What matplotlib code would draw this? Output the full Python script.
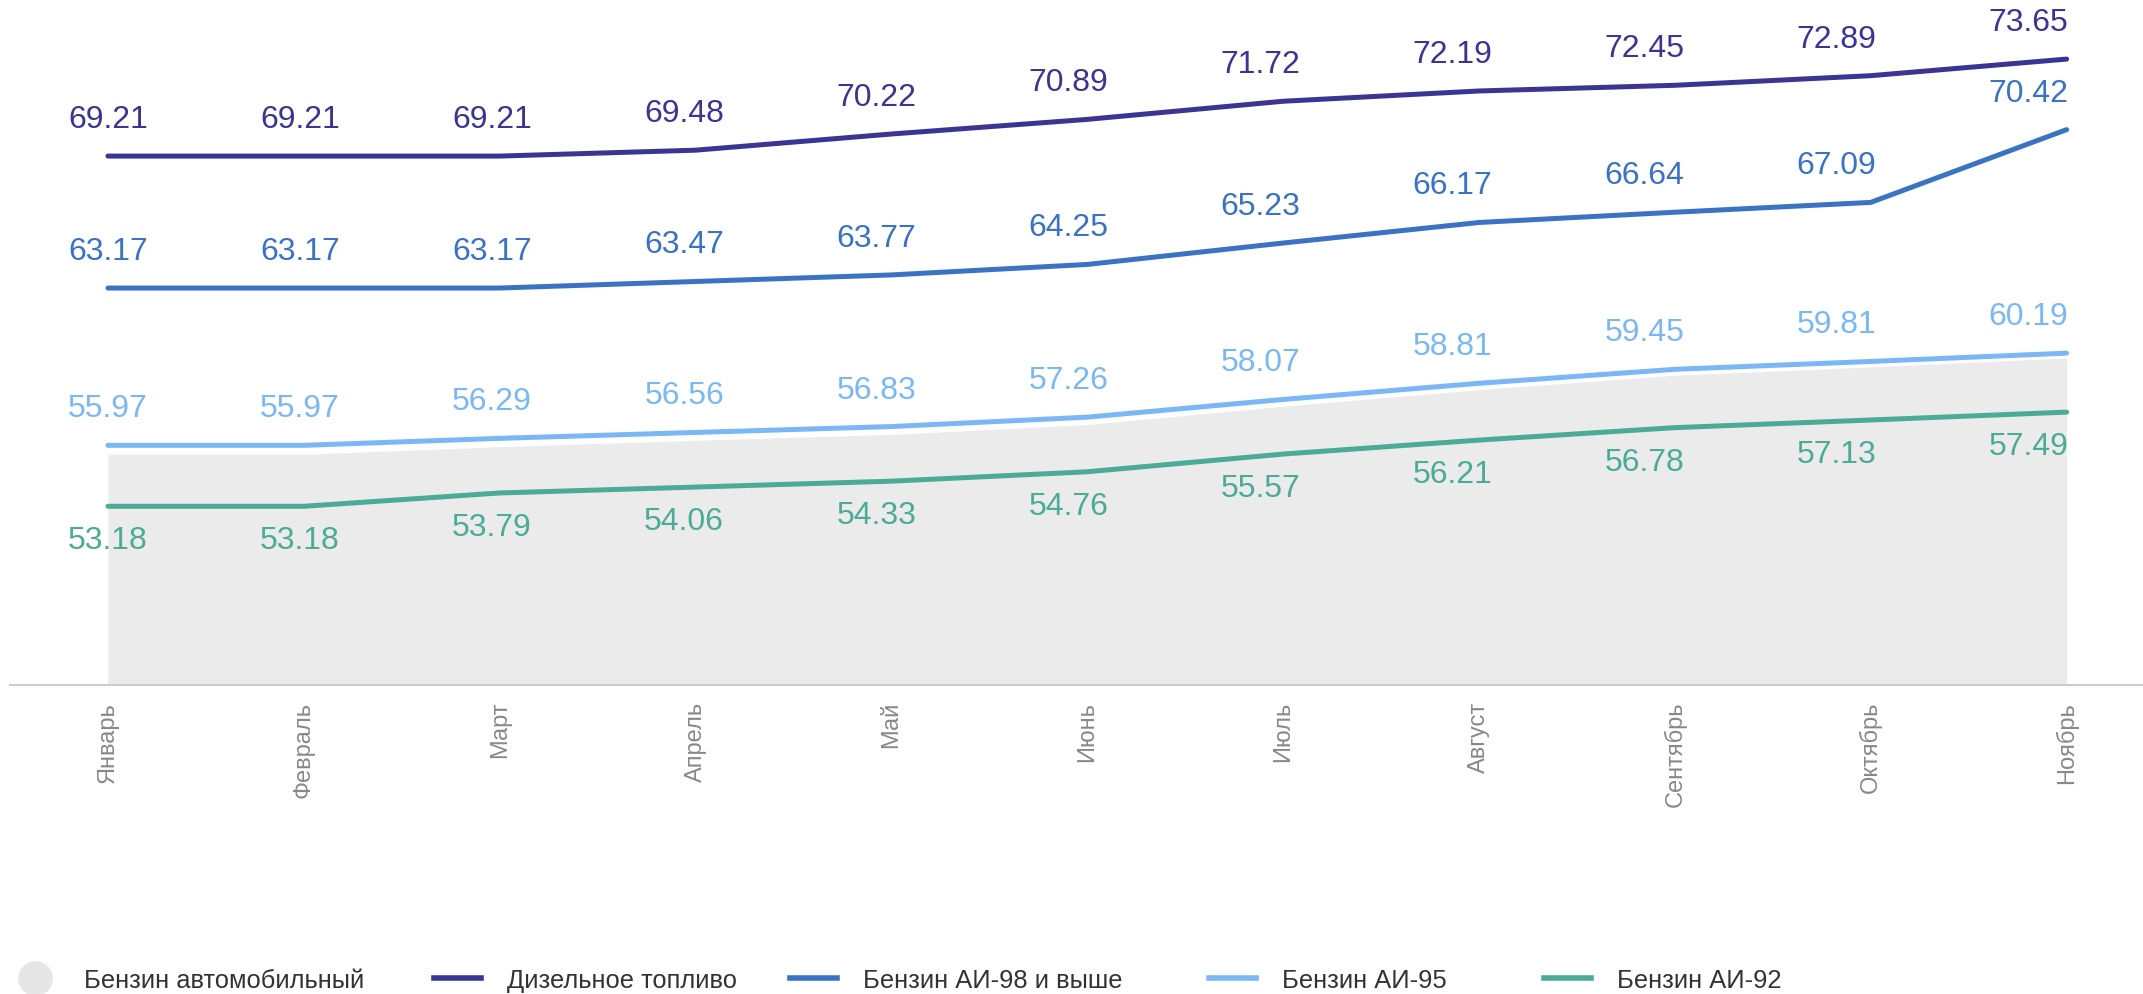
import matplotlib
matplotlib.use('Agg')
import matplotlib.pyplot as plt
from matplotlib.lines import Line2D

months = ['Январь', 'Февраль', 'Март', 'Апрель', 'Май', 'Июнь', 'Июль',
          'Август', 'Сентябрь', 'Октябрь', 'Ноябрь']
auto = [55.60, 55.60, 55.95, 56.24, 56.51, 56.96, 57.80, 58.56, 59.22, 59.60, 60.01]
diesel = [69.21, 69.21, 69.21, 69.48, 70.22, 70.89, 71.72, 72.19, 72.45, 72.89, 73.65]
ai98 = [63.17, 63.17, 63.17, 63.47, 63.77, 64.25, 65.23, 66.17, 66.64, 67.09, 70.42]
ai95 = [55.97, 55.97, 56.29, 56.56, 56.83, 57.26, 58.07, 58.81, 59.45, 59.81, 60.19]
ai92 = [53.18, 53.18, 53.79, 54.06, 54.33, 54.76, 55.57, 56.21, 56.78, 57.13, 57.49]

c_auto = '#ebebeb'
c_diesel = '#3a3494'
c_98 = '#3a72c4'
c_95 = '#7ab8f5'
c_92 = '#4aab96'

plt.rcParams['font.family'] = ['Liberation Sans', 'DejaVu Sans']

W, H = 2143, 995
fig = plt.figure(figsize=(W / 100, H / 100), dpi=100)
ax = fig.add_axes([10 / W, (H - 686) / H, (W - 10) / W, 686 / H])

x = list(range(len(months)))
ax.fill_between(x, auto, 45, color=c_auto, lw=0, zorder=1)
ax.plot(x, auto, color='white', lw=2, zorder=1.5)

series = [(diesel, c_diesel, 37), (ai98, c_98, 37), (ai95, c_95, 37), (ai92, c_92, -34)]
for vals, col, dy in series:
    ax.plot(x, vals, color=col, lw=3.6, solid_capstyle='round',
            solid_joinstyle='round', zorder=3)
    for i, v in enumerate(vals):
        ax.annotate(f'{v:.2f}', (i, v), xytext=(-3.8 * i, dy),
                    textcoords='offset pixels', ha='center', va='center',
                    fontsize=23, color=col, zorder=4)

ax.set_xlim(-0.5, 10.39)
ax.set_ylim(45, 76.4)
ax.set_xticks(x)
ax.set_xticklabels(months, rotation=90, fontsize=17, color='#888888')
ax.tick_params(axis='x', length=0, pad=11.5)
ax.set_yticks([])
for s in ['top', 'right', 'left']:
    ax.spines[s].set_visible(False)
ax.spines['bottom'].set_color('#cccccc')
ax.spines['bottom'].set_linewidth(1.5)

# legend, one entry per block
items = [
    (Line2D([], [], marker='o', ls='none', ms=24, color='#e6e6e6'), 'Бензин автомобильный', 11),
    (Line2D([], [], color=c_diesel, lw=4), 'Дизельное топливо', 434),
    (Line2D([], [], color=c_98, lw=4), 'Бензин АИ-98 и выше', 790),
    (Line2D([], [], color=c_95, lw=4), 'Бензин АИ-95', 1209),
    (Line2D([], [], color=c_92, lw=4), 'Бензин АИ-92', 1544),
]
for h, lab, px in items:
    fig.legend([h], [lab], loc='center left', bbox_to_anchor=(px / W, 14 / H),
               bbox_transform=fig.transFigure, frameon=False, fontsize=18.4,
               handlelength=1.84, handletextpad=1.0, borderpad=0,
               borderaxespad=0, labelcolor='#333333')

fig.savefig('out.png', dpi=100)
